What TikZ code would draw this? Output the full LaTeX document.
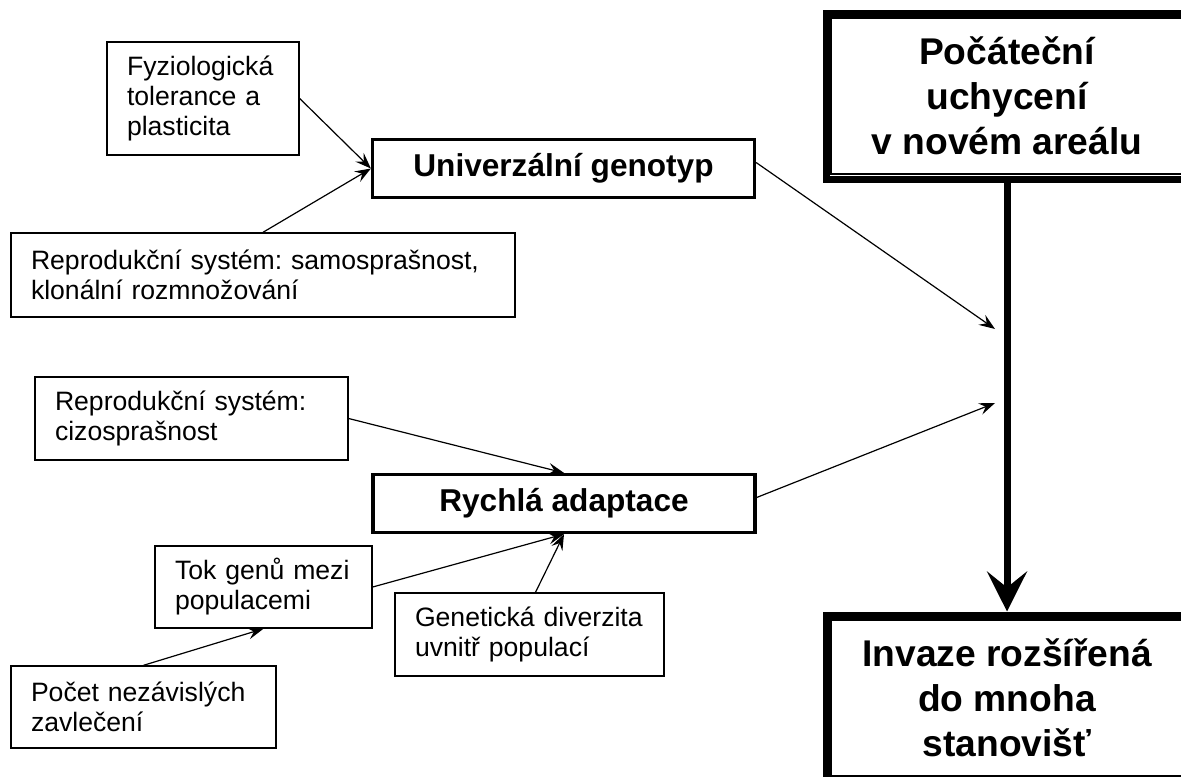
\documentclass[tikz,border=0pt]{standalone}
\usepackage{fontspec}
\setmainfont{Liberation Sans}
\frenchspacing
\usetikzlibrary{arrows.meta}
\begin{document}
\begin{tikzpicture}[x=0.5pt,y=-0.5pt,
    factor/.style={draw,line width=0.7pt,align=left,inner xsep=10pt,inner ysep=0pt,
        font=\fontsize{13.3}{15}\selectfont},
    mainbox/.style={draw,line width=1.6pt,minimum width=191pt,minimum height=29pt,
        font=\fontsize{15.8}{19}\selectfont\bfseries},
    stagebox/.style={draw,line width=3.5pt,minimum width=180.5pt,minimum height=82.75pt,
        align=center,font=\fontsize{18.6}{22.5}\selectfont\bfseries},
    link/.style={-{Stealth[length=8pt,width=6pt,inset=3pt]},line width=0.6pt},
    bigarrow/.style={-{Stealth[length=20pt,width=20pt,inset=8pt]},line width=3.5pt}]
        \clip (0,0) rectangle (1181,776);

        \node [stagebox](start)at(1007,96.25){Počáteční\\uchycení\\v novém areálu};
        \node [stagebox](inv)at(1007,697.75){Invaze rozšířená\\do mnoha\\stanovišť};
        \draw [line width=0.9pt] ([shift={(4.1pt,-4.1pt)}]start.north west) rectangle ([shift={(-4.1pt,4.1pt)}]start.south east);
        \draw [line width=0.9pt] ([shift={(4.1pt,-4.1pt)}]inv.north west) rectangle ([shift={(-4.1pt,4.1pt)}]inv.south east);

        \node [mainbox](univ)at(563.5,168.5){Univerzální genotyp};
        \node [mainbox](rych)at(564,503.5){Rychlá adaptace};

        \node [factor,text width=76pt,minimum height=56.5pt](fyz)at(203,98.5){Fyziologická\\tolerance a\\plasticita};
        \node [factor,text width=232pt,minimum height=42pt](samo)at(263,275){Reprodukční systém: samosprašnost,\\klonální rozmnožování};
        \node [factor,text width=136.5pt,minimum height=41.5pt](cizo)at(191.5,418.5){Reprodukční systém:\\cizosprašnost};
        \node [factor,text width=88.5pt,minimum height=41pt](tok)at(263.5,587){Tok genů mezi\\populacemi};
        \node [factor,text width=112.5pt,minimum height=41pt](poc)at(143.5,707){Počet nezávislých\\zavlečení};
        \node [factor,text width=114.5pt,minimum height=41.5pt](gen)at(529.5,634.5){Genetická diverzita\\uvnitř populací};

        \coordinate (in1) at (995,329);
        \coordinate (in2) at (995,403);

        \draw [link] (fyz.east) -- (univ.west);
        \draw [link] (samo.north) -- (univ.west);
        \draw [link] ([yshift=3pt]univ.east) -- (in1);
        \draw [link] (cizo.east) -- (rych.north);
        \draw [link] (tok.east) -- (rych.south);
        \draw [link] ([xshift=3pt]gen.north) -- (rych.south);
        \draw [link] (poc.north) -- (tok.south);
        \draw [link] ([yshift=3pt]rych.east) -- (in2);
        \draw [bigarrow] (start.south) -- (inv.north);
    \end{tikzpicture}
\end{document}
